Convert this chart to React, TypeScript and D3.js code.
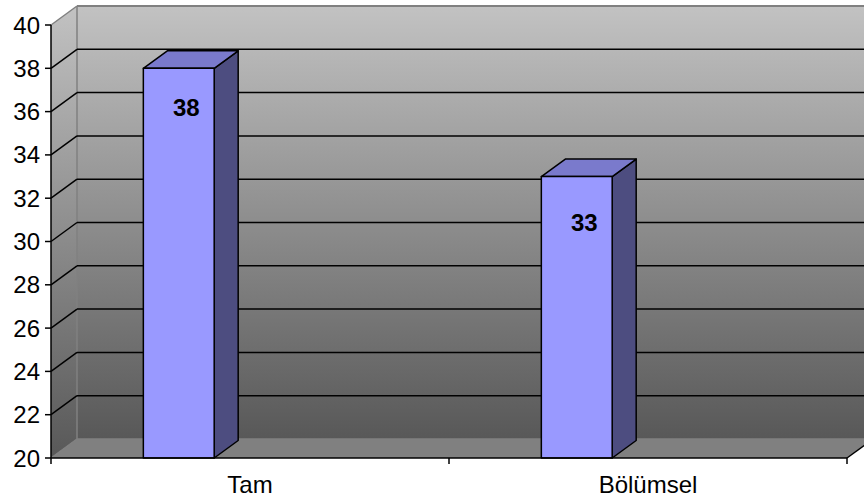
import React from "react";
import * as d3 from "d3";

const categories = ["Tam", "Bölümsel"];
const values = [38, 33];
const yTickValues = [20, 22, 24, 26, 28, 30, 32, 34, 36, 38, 40];

const W = 864;
const H = 502;
// wall depth offset and bar depth offset (oblique projection)
const WDX = 26;
const WDY = -19;
const BDX = 24;
const BDY = -17.5;

export default function App() {
  const y = d3.scaleLinear().domain([20, 40]).range([458, 25]);
  const x = d3.scaleBand<string>().domain(categories).range([51, 847]);
  const bw = x.bandwidth();
  // data-label placement along the value axis
  const labelY = d3.scaleLinear().domain([20, 40]).range([522.8, 60.8]);

  const x0 = 51;
  const x1 = 847;
  const yTop = y(40);
  const yBot = y(20);
  const font = "'Liberation Sans', Arial, sans-serif";

  const pts = (p: [number, number][]) => p.map((q) => q.join(",")).join(" ");

  return (
    <svg
      width={W}
      height={H}
      style={{ position: "fixed", left: 0, top: 0, background: "#fff" }}
      fontFamily={font}
    >
      <defs>
        <linearGradient id="wallGrad" x1="0" y1="0" x2="0" y2="1">
          <stop offset="0" stopColor="#c2c2c2" />
          <stop offset="1" stopColor="#585858" />
        </linearGradient>
      </defs>

      {/* back wall */}
      <rect
        x={x0 + WDX}
        y={yTop + WDY}
        width={W}
        height={yBot - yTop}
        fill="url(#wallGrad)"
      />
      {/* left wall */}
      <polygon
        points={pts([
          [x0, yTop],
          [x0 + WDX, yTop + WDY],
          [x0 + WDX, yBot + WDY],
          [x0, yBot],
        ])}
        fill="url(#wallGrad)"
      />
      {/* floor */}
      <polygon
        points={pts([
          [x0, yBot],
          [x0 + WDX, yBot + WDY],
          [x1 + WDX, yBot + WDY],
          [x1, yBot],
        ])}
        fill="#808080"
      />
      {/* wall edges */}
      <line x1={x0 + WDX} y1={yTop + WDY} x2={W} y2={yTop + WDY} stroke="#808080" strokeWidth={2} />
      <line x1={x0} y1={yTop} x2={x0 + WDX} y2={yTop + WDY} stroke="#808080" strokeWidth={1.5} />
      <line x1={x0 + WDX} y1={yTop + WDY} x2={x0 + WDX} y2={yBot + WDY} stroke="#808080" strokeWidth={1.5} />
      <line x1={x0 + WDX} y1={yBot + WDY} x2={W} y2={yBot + WDY} stroke="#808080" strokeWidth={1.5} />
      <line x1={x0} y1={yBot} x2={x0 + WDX} y2={yBot + WDY} stroke="#808080" strokeWidth={1.5} />

      {/* gridlines on the side and back walls */}
      {yTickValues
        .filter((t) => t !== 20 && t !== 40)
        .map((t) => (
          <g key={t}>
            <line x1={x0} y1={y(t)} x2={x0 + WDX} y2={y(t) + WDY} stroke="#000" strokeWidth={1.5} />
            <line x1={x0 + WDX} y1={y(t) + WDY} x2={W} y2={y(t) + WDY} stroke="#000" strokeWidth={1.5} />
          </g>
        ))}

      {/* bars */}
      {categories.map((c, i) => {
        const left = (x(c) as number) + bw * 0.232;
        const right = left + bw * 0.178;
        const top = y(values[i]);
        const bottom = y(20);
        return (
          <g key={c} stroke="#000" strokeWidth={1.5} strokeLinejoin="round">
            <polygon
              points={pts([
                [right, top],
                [right + BDX, top + BDY],
                [right + BDX, bottom + BDY],
                [right, bottom],
              ])}
              fill="#4d4d80"
            />
            <polygon
              points={pts([
                [left, top],
                [left + BDX, top + BDY],
                [right + BDX, top + BDY],
                [right, top],
              ])}
              fill="#7a7acc"
            />
            <rect x={left} y={top} width={right - left} height={bottom - top} fill="#9999ff" />
            <text
              x={left + 43}
              y={labelY(values[i])}
              textAnchor="middle"
              dominantBaseline="central"
              fontSize={24}
              fontWeight="bold"
              stroke="none"
              fill="#000"
            >
              {values[i]}
            </text>
          </g>
        );
      })}

      {/* value axis */}
      <line x1={x0} y1={yTop} x2={x0} y2={yBot} stroke="#000" strokeWidth={1.5} />
      {yTickValues.map((t) => (
        <g key={t}>
          <line x1={x0 - 6} y1={y(t)} x2={x0} y2={y(t)} stroke="#000" strokeWidth={1.5} />
          <text
            x={40}
            y={y(t)}
            textAnchor="end"
            dominantBaseline="central"
            fontSize={24}
            fill="#000"
          >
            {t}
          </text>
        </g>
      ))}

      {/* category axis */}
      <line x1={x0} y1={yBot} x2={x1} y2={yBot} stroke="#000" strokeWidth={1.5} />
      <line x1={x1} y1={yBot} x2={x1 + WDX} y2={yBot + WDY} stroke="#000" strokeWidth={1.5} />
      {[x0, ...categories.map((c) => (x(c) as number) + bw)].map((tx, i) => (
        <line key={i} x1={tx} y1={yBot} x2={tx} y2={yBot + 6} stroke="#000" strokeWidth={1.5} />
      ))}
      {categories.map((c) => (
        <text
          key={c}
          x={(x(c) as number) + bw / 2}
          y={493}
          textAnchor="middle"
          fontSize={24}
          fill="#000"
        >
          {c}
        </text>
      ))}
    </svg>
  );
}
